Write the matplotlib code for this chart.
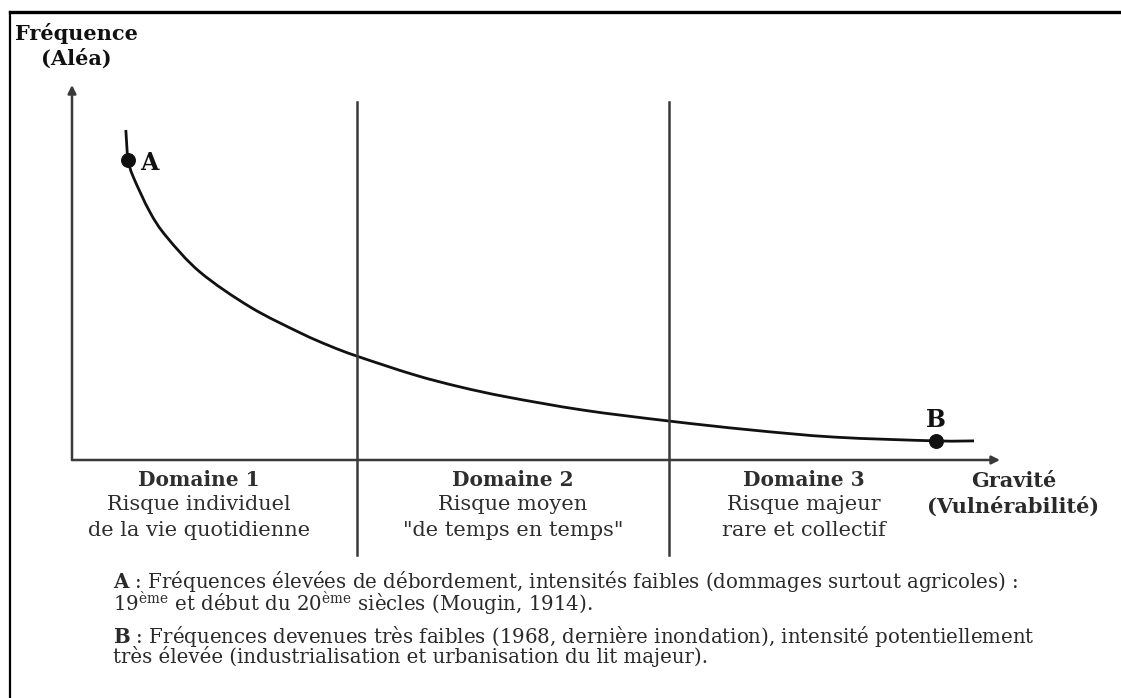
import matplotlib
matplotlib.use("Agg")
import matplotlib.pyplot as plt
from matplotlib.path import Path
from matplotlib.patches import PathPatch
import numpy as np

SERIF = "DejaVu Serif"
plt.rcParams['mathtext.fontset'] = 'custom'
plt.rcParams['mathtext.rm'] = SERIF
plt.rcParams['mathtext.it'] = SERIF + ':italic'
plt.rcParams['mathtext.bf'] = SERIF + ':bold'

# ---- data (gravity on x, frequency on y, arbitrary 0-100 units) ----
curve_gravity = [5.8, 6.0, 6.6, 8.4, 10.2, 13.8, 19.2, 24.6, 27.8, 30.7, 36.9,
                 41.8, 46.9, 55.1, 64.3, 73.2, 82.2, 93.1, 97.2]
curve_frequency = [88.0, 80.0, 75.5, 66.1, 59.5, 50.1, 40.8, 33.9, 30.4, 27.7, 22.7,
                   19.5, 16.8, 13.3, 10.4, 8.0, 6.1, 5.1, 5.1]
point_labels = ["A", "B"]
point_gravity = [6.0, 93.1]
point_frequency = [80.0, 5.1]
domain_bounds = [30.7, 64.3]
domain_titles = ["Domaine 1", "Domaine 2", "Domaine 3"]
domain_line1 = ["Risque individuel", "Risque moyen", "Risque majeur"]
domain_line2 = ["de la vie quotidienne", "\"de temps en temps\"", "rare et collectif"]
domain_centers_px = [199, 513, 804]
y_label = ["Fréquence", "(Aléa)"]
x_label = ["Gravité", "(Vulnérabilité)"]
note_a = [r"$\mathbf{A}$ : Fréquences élevées de débordement, intensités faibles (dommages surtout agricoles) :",
          r"19$^{\mathrm{ème}}$ et début du 20$^{\mathrm{ème}}$ siècles (Mougin, 1914)."]
note_b = [r"$\mathbf{B}$ : Fréquences devenues très faibles (1968, dernière inondation), intensité potentiellement",
          "très élevée (industrialisation et urbanisation du lit majeur)."]

W, H = 1121, 698
fig = plt.figure(figsize=(W / 100, H / 100), dpi=100)
fig.patch.set_facecolor("white")

def fx(px):
    return px / W

def fy(py):
    return 1 - py / H

# frame lines
fig.add_artist(plt.Line2D([fx(10), fx(1121)], [fy(12), fy(12)], color="black", lw=2.4))
fig.add_artist(plt.Line2D([fx(10), fx(10)], [fy(12), fy(698)], color="black", lw=1.6))

# main axes: origin at pixel (72,460), top-right at (1000,85)
ax = fig.add_axes([fx(72), fy(460), fx(1000) - fx(72), fy(85) - fy(460)])
ax.set_xlim(0, 100)
ax.set_ylim(0, 100)
ax.axis("off")

axis_col = "#3a3a3a"
for tip in [(0, 100), (100, 0)]:
    ax.annotate("", xy=tip, xytext=(0, 0),
                arrowprops=dict(arrowstyle="-|>", color=axis_col, lw=1.8,
                                mutation_scale=12, shrinkA=0, shrinkB=0),
                annotation_clip=False)

for b in domain_bounds:
    ax.plot([b, b], [-25.3, 95.5], color=axis_col, lw=1.8, clip_on=False)

# smooth curve through the read points (Catmull-Rom as cubic Bezier segments)
pts = np.column_stack([curve_gravity, curve_frequency])
sx, sy = 9.28, 3.75
P = pts * [sx, sy]
verts = [P[0], P[1]]
codes = [Path.MOVETO, Path.LINETO]
for i in range(1, len(P) - 1):
    p0 = P[i - 1] if i > 1 else P[i] - (P[i + 1] - P[i])
    p1, p2 = P[i], P[i + 1]
    p3 = P[i + 2] if i + 2 < len(P) else p2
    c1 = p1 + (p2 - p0) / 6.0
    c2 = p2 - (p3 - p1) / 6.0
    verts += [c1, c2, p2]
    codes += [Path.CURVE4] * 3
verts = np.array(verts) / [sx, sy]
ax.add_patch(PathPatch(Path(verts, codes), facecolor="none", edgecolor="#111111",
                       lw=2.0, clip_on=False))

ax.scatter(point_gravity, point_frequency, s=95, color="#111111", zorder=5, clip_on=False)

bold = dict(family=SERIF, weight="bold", color="#111111")
ax.annotate(point_labels[0], (point_gravity[0], point_frequency[0]), xytext=(9, -2),
            textcoords="offset points", ha="left", va="center", fontsize=17, **bold)
ax.annotate(point_labels[1], (point_gravity[1], point_frequency[1]), xytext=(0, 15),
            textcoords="offset points", ha="center", va="center", fontsize=17, **bold)

# axis titles
fig.text(fx(76), fy(34), y_label[0], ha="center", va="center", fontsize=15, **bold)
fig.text(fx(76), fy(59), y_label[1], ha="center", va="center", fontsize=15, **bold)
fig.text(fx(1014), fy(481), x_label[0], ha="center", va="center", fontsize=15,
         family=SERIF, weight="bold", color="#2a2a2a")
fig.text(fx(1013), fy(507), x_label[1], ha="center", va="center", fontsize=15,
         family=SERIF, weight="bold", color="#2a2a2a")

# domain labels
dcol = "#2e2e2e"
for cx, t, l1, l2 in zip(domain_centers_px, domain_titles, domain_line1, domain_line2):
    fig.text(fx(cx), fy(480), t, ha="center", va="center", fontsize=14.5,
             family=SERIF, weight="bold", color=dcol)
    fig.text(fx(cx), fy(505), l1, ha="center", va="center", fontsize=15,
             family=SERIF, color=dcol)
    fig.text(fx(cx), fy(530), l2, ha="center", va="center", fontsize=15,
             family=SERIF, color=dcol)

# footnotes (each as one two-line text)
ncol = "#2a2a2a"
fs = 14.2
fig.text(fx(113), fy(569), "\n".join(note_a), ha="left", va="top", fontsize=fs,
         family=SERIF, color=ncol, linespacing=0.78)
fig.text(fx(113), fy(624), "\n".join(note_b), ha="left", va="top", fontsize=fs,
         family=SERIF, color=ncol, linespacing=0.85)

fig.savefig("out.png", dpi=100, facecolor="white")
